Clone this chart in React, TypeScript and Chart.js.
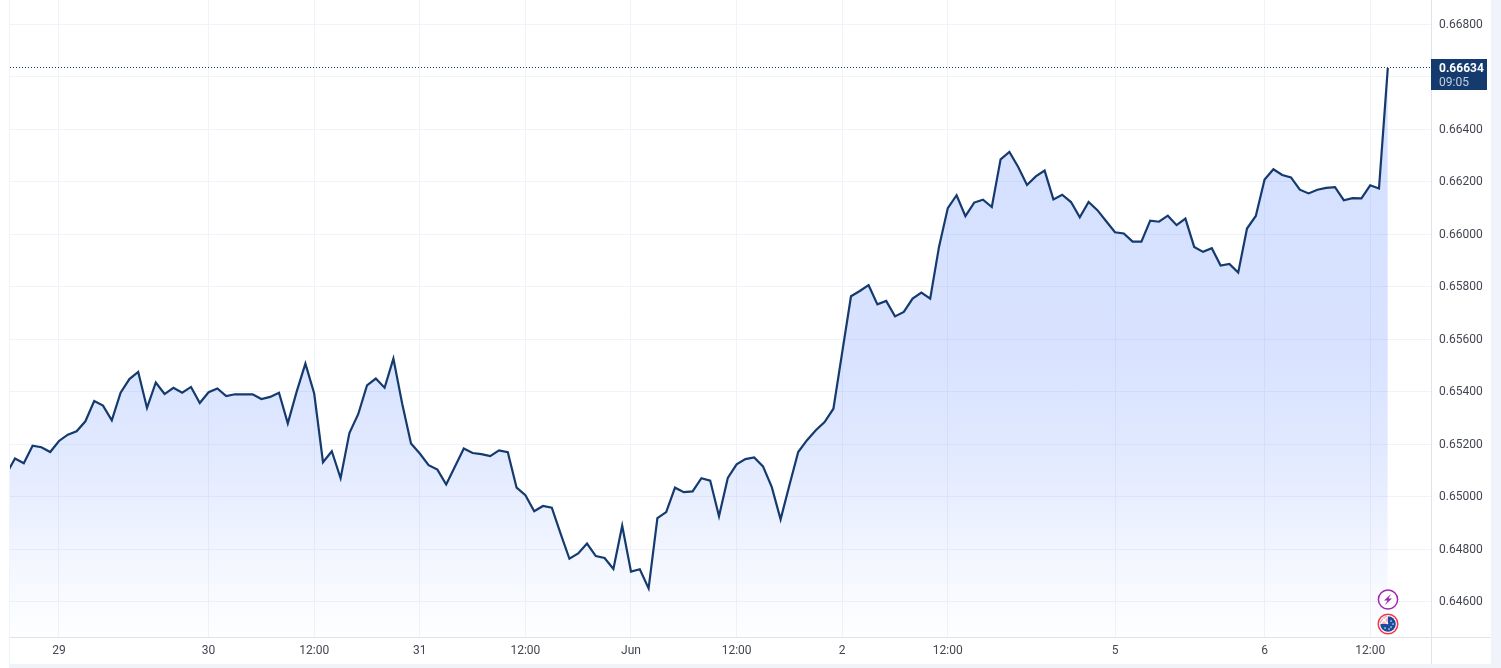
import React, { useEffect, useRef } from "react";
import { Chart, registerables } from "chart.js";

Chart.register(...registerables);

const priceValues: number[] = [
  0.65085, 0.65145, 0.65127, 0.65194, 0.65188, 0.6517, 0.65212, 0.65236, 0.65249, 0.65287,
  0.65364, 0.65347, 0.65291, 0.65396, 0.65448, 0.65475, 0.65338, 0.65435, 0.65391, 0.65415,
  0.65396, 0.65418, 0.65357, 0.65398, 0.65412, 0.65383, 0.6539, 0.6539, 0.6539, 0.65372,
  0.6538, 0.65396, 0.65279, 0.65399, 0.65507, 0.65393, 0.65131, 0.65173, 0.6507, 0.65242,
  0.65314, 0.65424, 0.6545, 0.65415, 0.65526, 0.65354, 0.65202, 0.65164, 0.6512, 0.65103,
  0.65046, 0.65115, 0.65183, 0.65166, 0.65162, 0.65154, 0.65176, 0.65169, 0.65034, 0.65005,
  0.64944, 0.64964, 0.64958, 0.64859, 0.64763, 0.64783, 0.64821, 0.64773, 0.64766, 0.64724,
  0.64889, 0.64714, 0.64723, 0.6465, 0.64918, 0.64941, 0.65034, 0.65017, 0.6502, 0.6507,
  0.65061, 0.64925, 0.65071, 0.65123, 0.65143, 0.65149, 0.65115, 0.65036, 0.64913, 0.65043,
  0.6517, 0.65215, 0.65253, 0.65284, 0.65335, 0.6555, 0.65764, 0.65784, 0.65806, 0.65733,
  0.65746, 0.65687, 0.65704, 0.65755, 0.65778, 0.65755, 0.65952, 0.661, 0.66149, 0.66069,
  0.66121, 0.66132, 0.66104, 0.66286, 0.66314, 0.66257, 0.66188, 0.66221, 0.66243, 0.66133,
  0.66151, 0.66123, 0.66065, 0.66123, 0.66092, 0.6605, 0.66008, 0.66003, 0.65972, 0.65972,
  0.66052, 0.66048, 0.66071, 0.66035, 0.6606, 0.65952, 0.65933, 0.65947, 0.65881, 0.65887,
  0.65854, 0.66022, 0.6607, 0.66209, 0.66248, 0.66226, 0.66217, 0.6617, 0.66156, 0.6617,
  0.66177, 0.6618, 0.6613, 0.66138, 0.66137, 0.66187, 0.66175, 0.66634,
];
const firstIndex = -1;
const lastPrice = 0.66634;
const lastPriceLabel = "0.66634";
const countdownLabel = "09:05";
const xTickIndices: number[] = [5, 22, 34, 46, 58, 70, 82, 94, 106, 125, 142, 154];
const xTickLabels: string[] = ["29", "30", "12:00", "31", "12:00", "Jun", "12:00", "2", "12:00", "5", "6", "12:00"];
const yTickValues: number[] = [0.646, 0.648, 0.65, 0.652, 0.654, 0.656, 0.658, 0.66, 0.662, 0.664, 0.666, 0.668];

const FONT = "Roboto, 'Noto Sans', sans-serif";
const GRID = "#f0f3fa";
const AXIS = "#e0e3eb";
const NAVY = "#143a6e";

const framePlugin = {
  id: "frame",
  beforeDraw(chart: any) {
    const { ctx, width, height } = chart;
    ctx.save();
    ctx.fillStyle = "#ffffff";
    ctx.fillRect(0, 0, width, height);
    ctx.fillStyle = GRID;
    ctx.fillRect(9, 0, 1, 664);
    ctx.fillRect(1491, 0, width - 1491, height);
    ctx.fillRect(9, 664, width - 9, height - 664);
    ctx.restore();
  },
  beforeDatasetsDraw(chart: any) {
    const { ctx, chartArea, scales } = chart;
    const py = Math.floor(scales.y.getPixelForValue(lastPrice) - 0.5) + 0.5;
    ctx.save();
    ctx.strokeStyle = NAVY;
    ctx.lineWidth = 1;
    ctx.setLineDash([1, 2]);
    ctx.beginPath();
    ctx.moveTo(chartArea.left, py);
    ctx.lineTo(chartArea.right, py);
    ctx.stroke();
    ctx.restore();
  },
  afterDraw(chart: any) {
    const { ctx, chartArea, scales } = chart;
    const right = chartArea.right;
    const bottom = chartArea.bottom;
    ctx.save();
    ctx.strokeStyle = AXIS;
    ctx.lineWidth = 1;
    ctx.beginPath();
    ctx.moveTo(chartArea.left, bottom + 0.5);
    ctx.lineTo(1491, bottom + 0.5);
    ctx.moveTo(right + 0.5, 0);
    ctx.lineTo(right + 0.5, 664);
    ctx.stroke();

    // last price tag
    const py = Math.floor(scales.y.getPixelForValue(lastPrice) - 0.5) + 0.5;
    ctx.fillStyle = NAVY;
    ctx.fillRect(right, py - 8.5, 56, 31);
    ctx.textBaseline = "middle";
    ctx.textAlign = "left";
    ctx.font = `bold 12px ${FONT}`;
    ctx.fillStyle = "#ffffff";
    ctx.fillText(lastPriceLabel, right + 8, py + 1);
    ctx.font = `12px ${FONT}`;
    ctx.fillStyle = "#c4cfdf";
    ctx.fillText(countdownLabel, right + 8, py + 15);

    // event icons
    const ix = scales.x.getPixelForValue(firstIndex + priceValues.length - 1) + 0.2;
    const y1 = bottom - 37.5;
    const y2 = bottom - 13;
    ctx.beginPath();
    ctx.arc(ix, y1, 9.6, 0, Math.PI * 2);
    ctx.fillStyle = "#ffffff";
    ctx.fill();
    ctx.strokeStyle = "#9c27b0";
    ctx.lineWidth = 1.5;
    ctx.stroke();
    ctx.beginPath();
    ctx.moveTo(ix + 3, y1 - 5.5);
    ctx.lineTo(ix - 4, y1 + 1);
    ctx.lineTo(ix - 0.5, y1 + 1);
    ctx.lineTo(ix - 3, y1 + 5.5);
    ctx.lineTo(ix + 4, y1 - 1);
    ctx.lineTo(ix + 0.5, y1 - 1);
    ctx.closePath();
    ctx.fillStyle = "#9c27b0";
    ctx.fill();

    ctx.beginPath();
    ctx.arc(ix, y2, 9.8, 0, Math.PI * 2);
    ctx.fillStyle = "#ffffff";
    ctx.fill();
    ctx.strokeStyle = "#f23645";
    ctx.lineWidth = 1.5;
    ctx.stroke();
    ctx.save();
    ctx.beginPath();
    ctx.arc(ix, y2, 7.8, 0, Math.PI * 2);
    ctx.clip();
    ctx.fillStyle = "#1c4a9e";
    ctx.fillRect(ix - 9, y2 - 9, 18, 18);
    ctx.fillStyle = "#f2b6bd";
    ctx.fillRect(ix - 9, y2 - 9, 9, 9);
    ctx.strokeStyle = "#ffffff";
    ctx.lineWidth = 1.2;
    ctx.beginPath();
    ctx.moveTo(ix - 8, y2 - 8);
    ctx.lineTo(ix, y2);
    ctx.moveTo(ix, y2 - 8);
    ctx.lineTo(ix - 8, y2);
    ctx.stroke();
    ctx.fillStyle = "#ffffff";
    [[3, -3], [5, 0], [3, 3], [-3, 4], [1, 5]].forEach(([dx, dy]) => {
      ctx.fillRect(ix + dx - 0.6, y2 + dy - 0.6, 1.3, 1.3);
    });
    ctx.restore();
    ctx.restore();
  },
};

export default function App() {
  const ref = useRef<HTMLCanvasElement | null>(null);
  useEffect(() => {
    const canvas = ref.current!;
    const ctx = canvas.getContext("2d")!;
    const gradient = ctx.createLinearGradient(0, 67, 0, 637);
    gradient.addColorStop(0, "rgba(41,98,255,0.2)");
    gradient.addColorStop(0.5, "rgba(41,98,255,0.18)");
    gradient.addColorStop(0.67, "rgba(41,98,255,0.14)");
    gradient.addColorStop(0.88, "rgba(41,98,255,0.05)");
    gradient.addColorStop(1, "rgba(41,98,255,0.005)");
    const linePoints = priceValues.map((y, i) => ({ x: firstIndex + i, y }));
    const chart = new Chart(canvas, {
      type: "line",
      data: {
        datasets: [
          {
            data: linePoints,
            borderColor: NAVY,
            borderWidth: 2.2,
            backgroundColor: gradient,
            fill: "start",
            pointRadius: 0,
            tension: 0,
          },
        ],
      },
      options: {
        animation: false,
        responsive: false,
        parsing: false,
        layout: { padding: { left: 10, right: 10, top: 0, bottom: 4 } },
        plugins: { legend: { display: false }, tooltip: { enabled: false } },
        scales: {
          x: {
            type: "linear",
            min: -0.568,
            max: 160.909,
            afterBuildTicks: (s: any) => {
              s.ticks = xTickIndices.map((value) => ({ value }));
            },
            afterFit: (s: any) => {
              s.height = 27;
              s.paddingLeft = 0;
              s.paddingRight = 0;
            },
            grid: { color: GRID, drawTicks: false, lineWidth: 1 },
            border: { display: false },
            ticks: {
              autoSkip: false,
              maxRotation: 0,
              padding: 7,
              color: "#434651",
              font: { family: FONT, size: 12 },
              callback: (v: any) => xTickLabels[xTickIndices.indexOf(v)] ?? "",
            },
          },
          y: {
            position: "right",
            min: 0.644646,
            max: 0.668934,
            afterBuildTicks: (s: any) => {
              s.ticks = yTickValues.map((value) => ({ value }));
            },
            afterFit: (s: any) => {
              s.width = 60;
              s.paddingTop = 0;
              s.paddingBottom = 0;
            },
            grid: { color: GRID, drawTicks: false, lineWidth: 1 },
            border: { display: false },
            ticks: {
              autoSkip: false,
              padding: 8,
              labelOffset: 0.5,
              color: "#434651",
              font: { family: FONT, size: 12 },
              callback: (v: any) => Number(v).toFixed(5),
            },
          },
        },
      },
      plugins: [framePlugin],
    } as any);
    return () => chart.destroy();
  }, []);
  return (
    <canvas
      ref={ref}
      width={1501}
      height={668}
      style={{ position: "fixed", left: 0, top: 0, width: 1501, height: 668, display: "block" }}
    />
  );
}
